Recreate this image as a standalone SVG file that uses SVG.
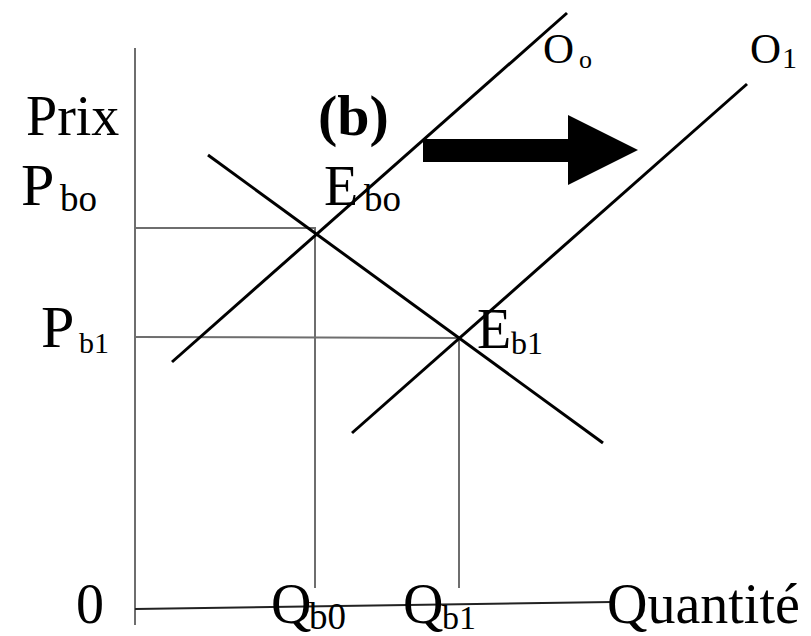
<svg xmlns="http://www.w3.org/2000/svg" width="811" height="636" viewBox="0 0 811 636">
<style>
.t{font-family:"Liberation Serif","Times New Roman",serif;fill:#000}
.big{font-size:56px}
.sub{font-size:37px}
.guide{stroke:#6e6e6e;stroke-width:2;fill:none}
.curve{stroke:#000;stroke-width:3;fill:none}
</style>
<rect width="811" height="636" fill="#fff"/>
<g id="axes">
<line class="guide" x1="135" y1="48" x2="135" y2="625"/>
<line x1="135" y1="609" x2="612" y2="602" stroke="#222" stroke-width="2"/>
</g>
<g id="connectors">
<line class="guide" x1="135" y1="228" x2="316" y2="228"/>
<line class="guide" x1="315" y1="228" x2="315" y2="588"/>
<line class="guide" x1="135" y1="337" x2="459" y2="338"/>
<line class="guide" x1="459" y1="338" x2="459" y2="588"/>
</g>
<g id="demand"><line class="curve" x1="208" y1="155" x2="603" y2="443"/></g>
<g id="O0"><line class="curve" x1="172" y1="362" x2="567" y2="13"/></g>
<g id="O1"><line class="curve" x1="352" y1="433" x2="747" y2="84"/></g>
<g id="shift-arrow"><polygon points="423,139 568,139 568,115 638,150 568,185 568,162 423,162" fill="#000"/></g>
<g id="labels">
<text class="t big" x="26" y="135">Prix</text>
<text class="t" x="318" y="135" font-size="58" font-weight="bold">(b)</text>
<text class="t" x="21" y="205" font-size="60">P<tspan class="sub" x="60" y="211">bo</tspan></text>
<text class="t big" x="324" y="205">E<tspan class="sub" x="364" y="211">bo</tspan></text>
<text class="t" x="543" y="63" font-size="43">O<tspan x="579" y="68" font-size="26">o</tspan></text>
<text class="t" x="750" y="63" font-size="43">O<tspan x="782" y="68" font-size="30">1</tspan></text>
<text class="t" x="41" y="347" font-size="60">P<tspan x="79" y="353" font-size="30">b1</tspan></text>
<text class="t big" x="477" y="348">E<tspan x="511" y="354" font-size="32">b1</tspan></text>
<text class="t big" x="76" y="623">0</text>
<text class="t big" x="271" y="623">Q<tspan class="sub" x="309" y="629">b0</tspan></text>
<text class="t big" x="403" y="623">Q<tspan x="442" y="629" font-size="34">b1</tspan></text>
<text class="t big" x="607" y="623">Quantité</text>
</g>
</svg>
